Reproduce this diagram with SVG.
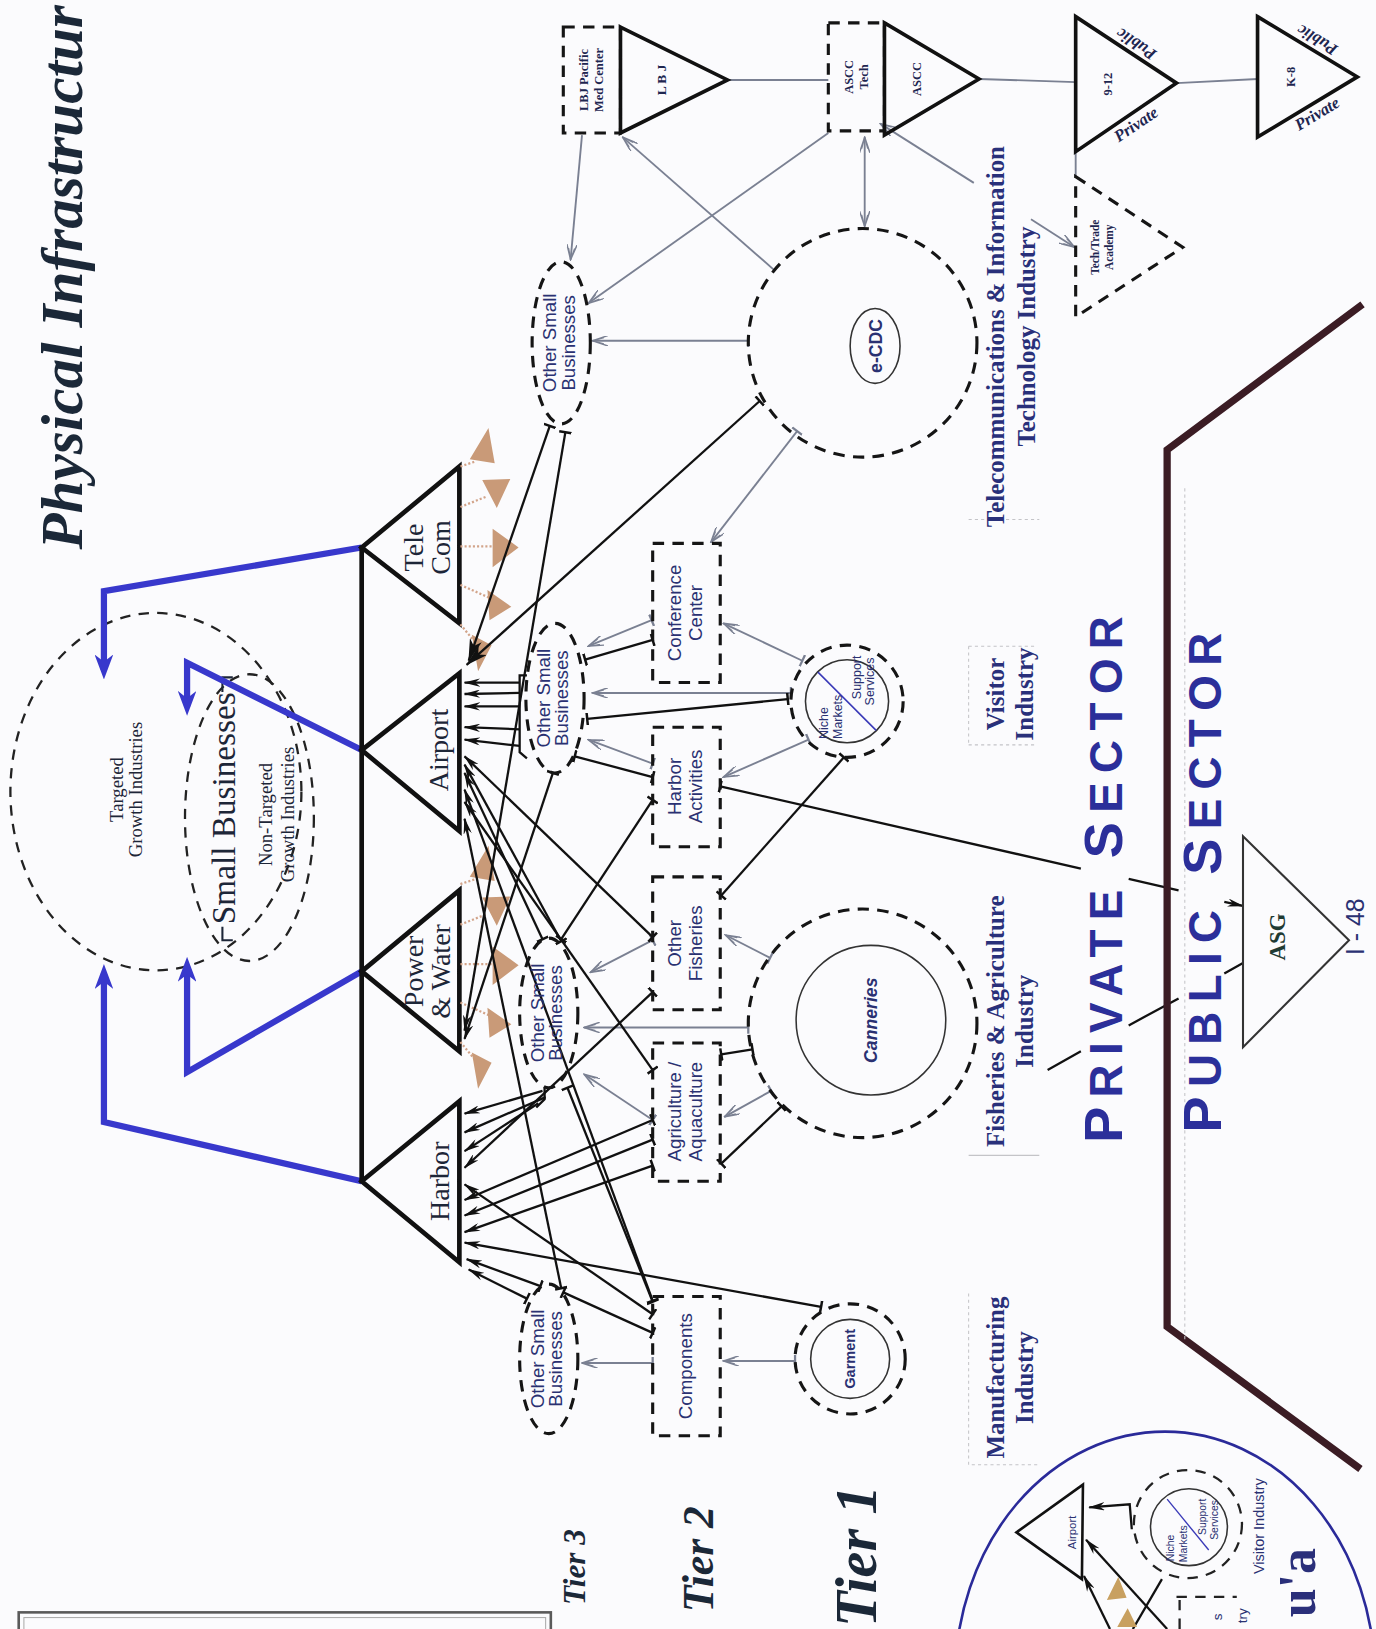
<svg xmlns="http://www.w3.org/2000/svg" width="1376" height="1629" viewBox="0 0 1376 1629">
<defs>
<style>
.d{fill:none;stroke:#151515;stroke-width:3;stroke-dasharray:11 8}
.d2{fill:none;stroke:#222;stroke-width:2.2;stroke-dasharray:10 8}
.tri{fill:none;stroke:#111;stroke-width:4.5;stroke-linejoin:miter}
.tri2{fill:none;stroke:#111;stroke-width:3.5;stroke-linejoin:miter}
.b{fill:none;stroke:#111;stroke-width:2.2}
.g{fill:none;stroke:#7a8092;stroke-width:1.8}
.bl{fill:none;stroke:#3838cc;stroke-width:6;stroke-linejoin:miter}
.s{font-family:"Liberation Sans",Arial,sans-serif;fill:#2a3172}
.sf{font-family:"Liberation Serif","Times New Roman",serif;fill:#1d2638}
.top{font-family:"Liberation Serif","Times New Roman",serif;font-weight:bold;fill:#1e2650}
.lbl{font-family:"Liberation Serif","Times New Roman",serif;font-weight:bold;fill:#29307a;font-size:24px}
.sec{font-family:"Liberation Sans",Arial,sans-serif;font-weight:bold;fill:#2b2f9a;letter-spacing:9px}
.tier{font-family:"Liberation Serif","Times New Roman",serif;font-weight:bold;font-style:italic;fill:#1b2838}
.tan{fill:#c99a78}
.tdot{stroke:#d2a48a;stroke-width:2.2;stroke-dasharray:2 2;fill:none}
.faint{stroke:#c4c4c8;stroke-width:1;stroke-dasharray:3 3;fill:none}
</style>
<marker id="ab" viewBox="0 0 16 8" refX="15" refY="4" markerWidth="16" markerHeight="8" orient="auto" markerUnits="userSpaceOnUse"><path d="M0,0 L16,4 L0,8 L5,4 z" fill="#111"/></marker>
<marker id="abig" viewBox="0 0 22 12" refX="21" refY="6" markerWidth="22" markerHeight="12" orient="auto" markerUnits="userSpaceOnUse"><path d="M0,0 L22,6 L0,12 L6,6 z" fill="#111"/></marker>
<marker id="ag" viewBox="0 0 16 10" refX="15" refY="5" markerWidth="16" markerHeight="10" orient="auto-start-reverse" markerUnits="userSpaceOnUse"><path d="M0,0 L15,5 L0,10 M4,2 L15,5 L4,8" fill="none" stroke="#7a8092" stroke-width="1.4"/></marker>
<marker id="tb" viewBox="0 0 4 12" refX="2" refY="6" markerWidth="4" markerHeight="12" orient="auto" markerUnits="userSpaceOnUse"><path d="M2,0 V12" stroke="#111" stroke-width="2.4"/></marker>
<marker id="tg" viewBox="0 0 4 12" refX="2" refY="6" markerWidth="4" markerHeight="12" orient="auto" markerUnits="userSpaceOnUse"><path d="M2,0 V12" stroke="#7a8092" stroke-width="2.2"/></marker>
<marker id="abl" viewBox="0 0 24 18" refX="15" refY="9" markerWidth="24" markerHeight="18" orient="auto" markerUnits="userSpaceOnUse"><path d="M0,0 L24,9 L0,18 L7,9 z" fill="#3838cc"/></marker>
</defs>
<rect width="1376" height="1629" fill="#fbfbfd"/>
<g transform="scale(1.0393,1.0389)">

<g id="title"><text class="tier" font-size="57" transform="translate(79,529) rotate(-90)">Physical Infrastructur</text></g>

<g id="tiers">
<text class="tier" font-size="30" transform="translate(563,1545) rotate(-90)">Tier 3</text>
<text class="tier" font-size="42" transform="translate(686,1552) rotate(-90)">Tier 2</text>
<text class="tier" font-size="56" transform="translate(843,1566) rotate(-90)">Tier 1</text>
</g>

<g id="legend-box"><rect x="18" y="1552" width="512" height="80" fill="none" stroke="#5a5a5a" stroke-width="2.5"/><rect x="23" y="1557" width="502" height="80" fill="none" stroke="#aaa" stroke-width="1"/></g>

<g id="small-businesses">
<ellipse class="d2" cx="150" cy="762" rx="140" ry="172"/>
<ellipse class="d2" cx="240" cy="787" rx="62" ry="138"/>
<text class="sf" font-size="18" text-anchor="middle" transform="translate(118,760) rotate(-90)">Targeted</text>
<text class="sf" font-size="18" text-anchor="middle" transform="translate(137,760) rotate(-90)">Growth Industries</text>
<text class="sf" font-size="32" text-anchor="middle" transform="translate(226,778) rotate(-90)">Small Businesses</text>
<path d="M214,666 V652 H224 M214,892 V905 H224" fill="none" stroke="#1d2638" stroke-width="2"/>
<text class="sf" font-size="18" text-anchor="middle" transform="translate(262,784) rotate(-90)">Non-Targeted</text>
<text class="sf" font-size="18" text-anchor="middle" transform="translate(283,784) rotate(-90)">Growth Industries</text>
</g>

<g id="blue-links">
<path class="bl" d="M348,527 L100,569 L100,645" marker-end="url(#abl)"/>
<path class="bl" d="M348,722 L180,638 L180,680" marker-end="url(#abl)"/>
<path class="bl" d="M348,935 L180,1032 L180,930" marker-end="url(#abl)"/>
<path class="bl" d="M348,1137 L100,1080 L100,937" marker-end="url(#abl)"/>
</g>

<g id="infrastructure">
<path d="M348,525 V1139" stroke="#111" stroke-width="4.5"/>
<g id="telecom"><path class="tri" d="M348,527 L442,449 L442,600 Z"/>
<text class="sf" font-size="27" text-anchor="middle" transform="translate(407,527) rotate(-90)">Tele</text>
<text class="sf" font-size="27" text-anchor="middle" transform="translate(433,527) rotate(-90)">Com</text></g>
<g id="airport"><path class="tri" d="M348,722 L442,648 L442,800 Z"/>
<text class="sf" font-size="27" text-anchor="middle" transform="translate(431,722) rotate(-90)">Airport</text></g>
<g id="powerwater"><path class="tri" d="M348,935 L442,857 L442,1012 Z"/>
<text class="sf" font-size="27" text-anchor="middle" transform="translate(407,935) rotate(-90)">Power</text>
<text class="sf" font-size="27" text-anchor="middle" transform="translate(433,935) rotate(-90)">&amp; Water</text></g>
<g id="harbor"><path class="tri" d="M348,1137 L442,1060 L442,1215 Z"/>
<text class="sf" font-size="27" text-anchor="middle" transform="translate(432,1137) rotate(-90)">Harbor</text></g>
</g>

<g id="signals">
<g id="sig1">
<path class="tdot" d="M443,449 L458,444 M443,488 L468,478 M443,526 L474,526 M443,563 L470,575 M443,601 L457,618"/>
<path class="tan" d="M452,442 L470,412 L476,446 Z M464,462 L491,461 L478,489 Z M474,509 L499,527 L474,546 Z M469,568 L492,584 L471,597 Z M454,611 L473,621 L460,646 Z"/>
</g>
<use href="#sig1" transform="translate(0,402)"/>
</g>

<g id="connectors">
<path class="g" d="M560,130 L549,250" marker-end="url(#ag)"/>
<path class="g" d="M797,128 L566,292" marker-end="url(#ag)"/>
<path class="g" d="M745,260 L599,132" marker-end="url(#ag)"/>
<path class="g" d="M720,328 L570,328" marker-start="url(#tg)" marker-end="url(#ag)"/>
<path class="g" d="M767,415 L684,522" marker-start="url(#tg)" marker-end="url(#ag)"/>
<path class="g" d="M627,597 L566,622" marker-start="url(#tg)" marker-end="url(#ag)"/>
<path class="g" d="M772,636 L696,600" marker-start="url(#tg)" marker-end="url(#ag)"/>
<path class="g" d="M761,667 L570,667" marker-start="url(#tg)" marker-end="url(#ag)"/>
<path class="g" d="M778,712 L696,748" marker-start="url(#tg)" marker-end="url(#ag)"/>
<path class="g" d="M628,735 L566,712" marker-start="url(#tg)" marker-end="url(#ag)"/>
<path class="g" d="M741,922 L698,900" marker-start="url(#tg)" marker-end="url(#ag)"/>
<path class="g" d="M720,989 L562,989" marker-start="url(#tg)" marker-end="url(#ag)"/>
<path class="g" d="M742,1050 L697,1075" marker-start="url(#tg)" marker-end="url(#ag)"/>
<path class="g" d="M628,905 L568,936" marker-start="url(#tg)" marker-end="url(#ag)"/>
<path class="g" d="M628,1078 L562,1034" marker-start="url(#tg)" marker-end="url(#ag)"/>
<path class="g" d="M628,1312 L560,1312" marker-start="url(#tg)" marker-end="url(#ag)"/>
<path class="g" d="M765,1310 L696,1310" marker-start="url(#tg)" marker-end="url(#ag)"/>
<path class="g" d="M700,77 H797 M942,76 L1035,79 M1132,80 L1210,76 M1035,146 V170"/>
<path class="g" d="M832,132 V218" marker-start="url(#ag)" marker-end="url(#ag)"/>
<path class="g" d="M847,119 L937,176" marker-start="url(#ag)"/>
<path class="g" d="M992,211 L1034,238" marker-end="url(#ag)"/>
<path class="b" d="M507,650 H500 V724 L507,730"/>
<path class="b" d="M500,657 L447,657" marker-end="url(#ab)"/>
<path class="b" d="M500,667 L447,668" marker-end="url(#ab)"/>
<path class="b" d="M500,680 L447,680" marker-end="url(#ab)"/>
<path class="b" d="M500,702 L447,700" marker-end="url(#ab)"/>
<path class="b" d="M500,718 L447,712" marker-end="url(#ab)"/>
<path class="b" d="M731,386 L449,640" marker-start="url(#tb)" marker-end="url(#abig)"/>
<path class="b" d="M529,410 L451,636" marker-start="url(#tb)" marker-end="url(#abig)"/>
<path class="b" d="M628,902 L447,728" marker-start="url(#tb)" marker-end="url(#ab)"/>
<path class="b" d="M540,906 L447,736" marker-start="url(#tb)" marker-end="url(#ab)"/>
<path class="b" d="M522,904 L447,744" marker-start="url(#tb)" marker-end="url(#ab)"/>
<path class="b" d="M628,1252 L447,760" marker-start="url(#tb)" marker-end="url(#ab)"/>
<path class="b" d="M628,1030 L447,772" marker-start="url(#tb)" marker-end="url(#ab)"/>
<path class="b" d="M540,1240 L447,788" marker-start="url(#tb)" marker-end="url(#ab)"/>
<path class="b" d="M544,416 L447,992" marker-start="url(#tb)" marker-end="url(#ab)"/>
<path class="b" d="M532,744 L447,1000" marker-start="url(#tb)" marker-end="url(#ab)"/>
<path class="b" d="M524,1046 V1058 L516,1066"/>
<path class="b" d="M522,1050 L447,1072" marker-end="url(#ab)"/>
<path class="b" d="M525,1056 L447,1090" marker-end="url(#ab)"/>
<path class="b" d="M518,1062 L447,1108" marker-end="url(#ab)"/>
<path class="b" d="M628,955 L447,1124" marker-start="url(#tb)" marker-end="url(#ab)"/>
<path class="b" d="M628,1265 L447,1140" marker-start="url(#tb)" marker-end="url(#ab)"/>
<path class="b" d="M628,1078 L447,1155" marker-start="url(#tb)" marker-end="url(#ab)"/>
<path class="b" d="M628,1097 L447,1170" marker-start="url(#tb)" marker-end="url(#ab)"/>
<path class="b" d="M628,1122 L447,1186" marker-start="url(#tb)" marker-end="url(#ab)"/>
<path class="b" d="M790,1258 L447,1196" marker-start="url(#tb)" marker-end="url(#ab)"/>
<path class="b" d="M520,1238 L449,1212" marker-start="url(#tb)" marker-end="url(#ab)"/>
<path class="b" d="M507,1250 L451,1222" marker-start="url(#tb)" marker-end="url(#ab)"/>
<path class="b" d="M758,673 L565,692" marker-start="url(#tb)" marker-end="url(#tb)"/>
<path class="b" d="M628,616 L563,635" marker-start="url(#tb)" marker-end="url(#tb)"/>
<path class="b" d="M812,729 L694,862" marker-start="url(#tb)" marker-end="url(#tb)"/>
<path class="b" d="M553,728 L628,748" marker-start="url(#tb)" marker-end="url(#tb)"/>
<path class="b" d="M628,770 L540,904" marker-start="url(#tb)" marker-end="url(#tb)"/>
<path class="b" d="M546,1047 L628,1253" marker-start="url(#tb)" marker-end="url(#tb)"/>
<path class="b" d="M628,1283 L542,1244" marker-start="url(#tb)" marker-end="url(#tb)"/>
<path class="b" d="M694,1015 L724,1010" marker-start="url(#tb)" marker-end="url(#tb)"/>
<path class="b" d="M694,1120 L752,1065" marker-start="url(#tb)" marker-end="url(#tb)"/>
<path class="b" d="M693,757 L1040,836" marker-start="url(#tb)"/>
<path class="b" d="M1086,846 L1134,857"/>
<path class="b" d="M1178,868 L1196,872" marker-end="url(#ab)"/>
<path class="b" d="M1008,1030 L1040,1012 M1086,987 L1134,961 M1178,937 L1196,927"/>
</g>

<g id="tier3">
<g id="osb-lbj"><ellipse class="d" cx="540" cy="330" rx="28" ry="78"/>
<text class="s" font-size="18" text-anchor="middle" transform="translate(535,330) rotate(-90)">Other Small</text>
<text class="s" font-size="18" text-anchor="middle" transform="translate(553,330) rotate(-90)">Businesses</text></g>
<g id="osb-airport"><ellipse class="d" cx="534" cy="672" rx="28" ry="72"/>
<text class="s" font-size="18" text-anchor="middle" transform="translate(529,672) rotate(-90)">Other Small</text>
<text class="s" font-size="18" text-anchor="middle" transform="translate(547,672) rotate(-90)">Businesses</text></g>
<g id="osb-power"><ellipse class="d" cx="528" cy="975" rx="28" ry="72"/>
<text class="s" font-size="18" text-anchor="middle" transform="translate(523,975) rotate(-90)">Other Small</text>
<text class="s" font-size="18" text-anchor="middle" transform="translate(541,975) rotate(-90)">Businesses</text></g>
<g id="osb-harbor"><ellipse class="d" cx="528" cy="1308" rx="28" ry="72"/>
<text class="s" font-size="18" text-anchor="middle" transform="translate(523,1308) rotate(-90)">Other Small</text>
<text class="s" font-size="18" text-anchor="middle" transform="translate(541,1308) rotate(-90)">Businesses</text></g>
</g>

<g id="tier2">
<g id="conference"><rect class="d" x="628" y="523" width="65" height="134"/>
<text class="s" font-size="18" text-anchor="middle" transform="translate(655,590) rotate(-90)">Conference</text>
<text class="s" font-size="18" text-anchor="middle" transform="translate(675,590) rotate(-90)">Center</text></g>
<g id="harbor-act"><rect class="d" x="628" y="700" width="65" height="115"/>
<text class="s" font-size="18" text-anchor="middle" transform="translate(655,757) rotate(-90)">Harbor</text>
<text class="s" font-size="18" text-anchor="middle" transform="translate(675,757) rotate(-90)">Activities</text></g>
<g id="other-fish"><rect class="d" x="628" y="844" width="65" height="128"/>
<text class="s" font-size="18" text-anchor="middle" transform="translate(655,908) rotate(-90)">Other</text>
<text class="s" font-size="18" text-anchor="middle" transform="translate(675,908) rotate(-90)">Fisheries</text></g>
<g id="agri"><rect class="d" x="628" y="1004" width="65" height="133"/>
<text class="s" font-size="18" text-anchor="middle" transform="translate(655,1070) rotate(-90)">Agriculture /</text>
<text class="s" font-size="18" text-anchor="middle" transform="translate(675,1070) rotate(-90)">Aquaculture</text></g>
<g id="components"><rect class="d" x="628" y="1248" width="65" height="134"/>
<text class="s" font-size="18" text-anchor="middle" transform="translate(666,1315) rotate(-90)">Components</text></g>
</g>

<g id="tier1">
<g id="garment"><circle class="d" cx="818" cy="1308" r="53"/><circle cx="818" cy="1308" r="38" fill="none" stroke="#333" stroke-width="1.5"/>
<text class="s" font-size="14" font-weight="bold" text-anchor="middle" fill="#1e2650" transform="translate(823,1308) rotate(-90)">Garment</text></g>
<g id="canneries"><circle class="d" cx="830" cy="985" r="110"/><circle cx="838" cy="982" r="72" fill="none" stroke="#333" stroke-width="1.5"/>
<text class="s" font-size="17" font-weight="bold" font-style="italic" text-anchor="middle" fill="#1e2650" transform="translate(844,982) rotate(-90)">Canneries</text></g>
<g id="niche"><circle class="d" cx="815" cy="675" r="54"/><circle cx="815" cy="675" r="40" fill="none" stroke="#333" stroke-width="1.5"/>
<path d="M787,647 L843,703" stroke="#3a3ab8" stroke-width="1.5"/>
<text class="s" font-size="12" text-anchor="middle" transform="translate(797,696) rotate(-90)">Niche</text>
<text class="s" font-size="12" text-anchor="middle" transform="translate(810,690) rotate(-90)">Markets</text>
<text class="s" font-size="12" text-anchor="middle" transform="translate(828,652) rotate(-90)">Support</text>
<text class="s" font-size="12" text-anchor="middle" transform="translate(841,656) rotate(-90)">Services</text></g>
<g id="ecdc"><circle class="d" cx="830" cy="330" r="110"/><ellipse cx="842" cy="333" rx="24" ry="36" fill="none" stroke="#333" stroke-width="1.5"/>
<text class="s" font-size="17" font-weight="bold" text-anchor="middle" fill="#1e2650" transform="translate(849,333) rotate(-90)">e-CDC</text></g>
</g>

<g id="education">
<g id="lbj-med"><rect class="d" x="542" y="26" width="55" height="102"/>
<text class="top" font-size="12" text-anchor="middle" transform="translate(566,77) rotate(-90)">LBJ Pacific</text>
<text class="top" font-size="12" text-anchor="middle" transform="translate(580,77) rotate(-90)">Med Center</text></g>
<g id="lbj"><path class="tri2" d="M597,26 L700,77 L597,128 Z"/>
<text class="top" font-size="13" text-anchor="middle" transform="translate(641,77) rotate(-90)">L B J</text></g>
<g id="ascc-tech"><rect class="d" x="797" y="22" width="54" height="104"/>
<text class="top" font-size="12" text-anchor="middle" transform="translate(821,74) rotate(-90)">ASCC</text>
<text class="top" font-size="12" text-anchor="middle" transform="translate(835,74) rotate(-90)">Tech</text></g>
<g id="ascc"><path class="tri2" d="M851,22 L942,76 L851,130 Z"/>
<text class="top" font-size="12" text-anchor="middle" transform="translate(886,76) rotate(-90)">ASCC</text></g>
<g id="g912"><path class="tri2" d="M1035,16 L1132,80 L1035,146 Z"/>
<text class="top" font-size="12" text-anchor="middle" transform="translate(1070,81) rotate(-90)">9-12</text>
<text class="top" font-size="16" font-style="italic" text-anchor="middle" transform="translate(1096,38) rotate(213.4)">Public</text>
<text class="top" font-size="16" font-style="italic" text-anchor="middle" transform="translate(1096,124) rotate(-34.2)">Private</text></g>
<g id="k8"><path class="tri2" d="M1210,16 L1306,74 L1210,132 Z"/>
<text class="top" font-size="12" text-anchor="middle" transform="translate(1246,74) rotate(-90)">K-8</text>
<text class="top" font-size="16" font-style="italic" text-anchor="middle" transform="translate(1270,34) rotate(211.1)">Public</text>
<text class="top" font-size="16" font-style="italic" text-anchor="middle" transform="translate(1270,114) rotate(-31.1)">Private</text></g>
<g id="techtrade"><path class="d" d="M1035,170 L1138,238 L1035,305 Z"/>
<text class="top" font-size="11" text-anchor="middle" transform="translate(1057,238) rotate(-90)">Tech/Trade</text>
<text class="top" font-size="11" text-anchor="middle" transform="translate(1071,238) rotate(-90)">Academy</text></g>
</g>

<g id="industry-labels">
<path class="faint" d="M932,500 H1000 M932,622 V717 M932,622 H998 M932,717 H998 M932,1245 V1410 H1000"/>
<path d="M932,1112 H1000" stroke="#c4c4c8" stroke-width="1.2"/>
<text class="lbl" text-anchor="middle" transform="translate(966,324) rotate(-90)">Telecommunications &amp; Information</text>
<text class="lbl" text-anchor="middle" transform="translate(996,324) rotate(-90)">Technology Industry</text>
<text class="lbl" text-anchor="middle" transform="translate(966,668) rotate(-90)">Visitor</text>
<text class="lbl" text-anchor="middle" transform="translate(994,668) rotate(-90)">Industry</text>
<text class="lbl" text-anchor="middle" transform="translate(966,983) rotate(-90)">Fisheries &amp; Agriculture</text>
<text class="lbl" text-anchor="middle" transform="translate(994,983) rotate(-90)">Industry</text>
<text class="lbl" text-anchor="middle" transform="translate(966,1326) rotate(-90)">Manufacturing</text>
<text class="lbl" text-anchor="middle" transform="translate(994,1326) rotate(-90)">Industry</text>
</g>

<g id="sectors">
<path d="M1311,293 L1123,433 V1277 L1309,1414" fill="none" stroke="#3b1c24" stroke-width="7" stroke-linejoin="miter"/>
<path class="faint" d="M1140,470 V1290"/>
<text class="sec" transform="translate(1080,1100) rotate(-90)"><tspan font-size="52">P</tspan><tspan font-size="44">RIVATE</tspan></text>
<text class="sec" transform="translate(1080,826) rotate(-90)"><tspan font-size="52">S</tspan><tspan font-size="44">ECTOR</tspan></text>
<text class="sec" transform="translate(1175,1090) rotate(-90)"><tspan font-size="52">P</tspan><tspan font-size="44">UBLIC</tspan></text>
<text class="sec" transform="translate(1175,842) rotate(-90)"><tspan font-size="52">S</tspan><tspan font-size="44">ECTOR</tspan></text>
<g id="asg"><path d="M1196,805 L1298,905 L1196,1008 Z" fill="none" stroke="#333" stroke-width="2"/>
<text font-family="Liberation Serif, serif" font-weight="bold" font-size="22" fill="#1f3a33" text-anchor="middle" transform="translate(1236,902) rotate(-90)">ASG</text></g>
<text class="s" font-size="24" fill="#333" text-anchor="middle" transform="translate(1312,892) rotate(-90)">I - 48</text>
</g>

<g id="manua-inset">
<ellipse cx="1121" cy="1616" rx="202" ry="238" fill="none" stroke="#2a2a99" stroke-width="2.5"/>
<path d="M978,1475 L1042,1429 L1041,1520 Z" fill="none" stroke="#111" stroke-width="2.5"/>
<text class="s" font-size="11" fill="#111" text-anchor="middle" transform="translate(1035,1475) rotate(-90)">Airport</text>
<circle cx="1143" cy="1467" r="52" class="d2"/>
<circle cx="1144" cy="1470" r="37" fill="none" stroke="#333" stroke-width="1.5"/>
<path d="M1123,1443 L1163,1492" stroke="#3a3ab8" stroke-width="1.3"/>
<text class="s" font-size="10" fill="#222" text-anchor="middle" transform="translate(1130,1490) rotate(-90)">Niche</text>
<text class="s" font-size="10" fill="#222" text-anchor="middle" transform="translate(1142,1486) rotate(-90)">Markets</text>
<text class="s" font-size="10" fill="#222" text-anchor="middle" transform="translate(1160,1460) rotate(-90)">Support</text>
<text class="s" font-size="10" fill="#222" text-anchor="middle" transform="translate(1172,1463) rotate(-90)">Services</text>
<path class="b" d="M1089,1472 L1087,1448 L1048,1451" marker-end="url(#ab)"/>
<path class="b" d="M1123,1568 L1045,1482" marker-end="url(#ab)"/>
<path class="b" d="M1068,1568 L1043,1517" marker-end="url(#ab)"/>
<path class="b" d="M1118,1520 L1090,1568"/>
<path d="M1065,1540 L1076,1518 L1084,1538 Z M1075,1566 L1085,1548 L1094,1566 Z" fill="#c8a060"/>
<path class="d2" d="M1132,1537 H1190 M1135,1540 V1568"/>
<text class="s" font-size="14" fill="#222" text-anchor="middle" transform="translate(1216,1469) rotate(-90)">Visitor Industry</text>
<text class="s" font-size="13" fill="#222" text-anchor="end" transform="translate(1176,1553) rotate(-90)">s</text>
<text class="s" font-size="13" fill="#222" text-anchor="end" transform="translate(1200,1548) rotate(-90)">try</text>
<text font-family="Liberation Serif, serif" font-weight="bold" font-size="50" fill="#2a2f7a" text-anchor="end" transform="translate(1265,1490) rotate(-90)">u'a</text>
</g>

</g>
</svg>
